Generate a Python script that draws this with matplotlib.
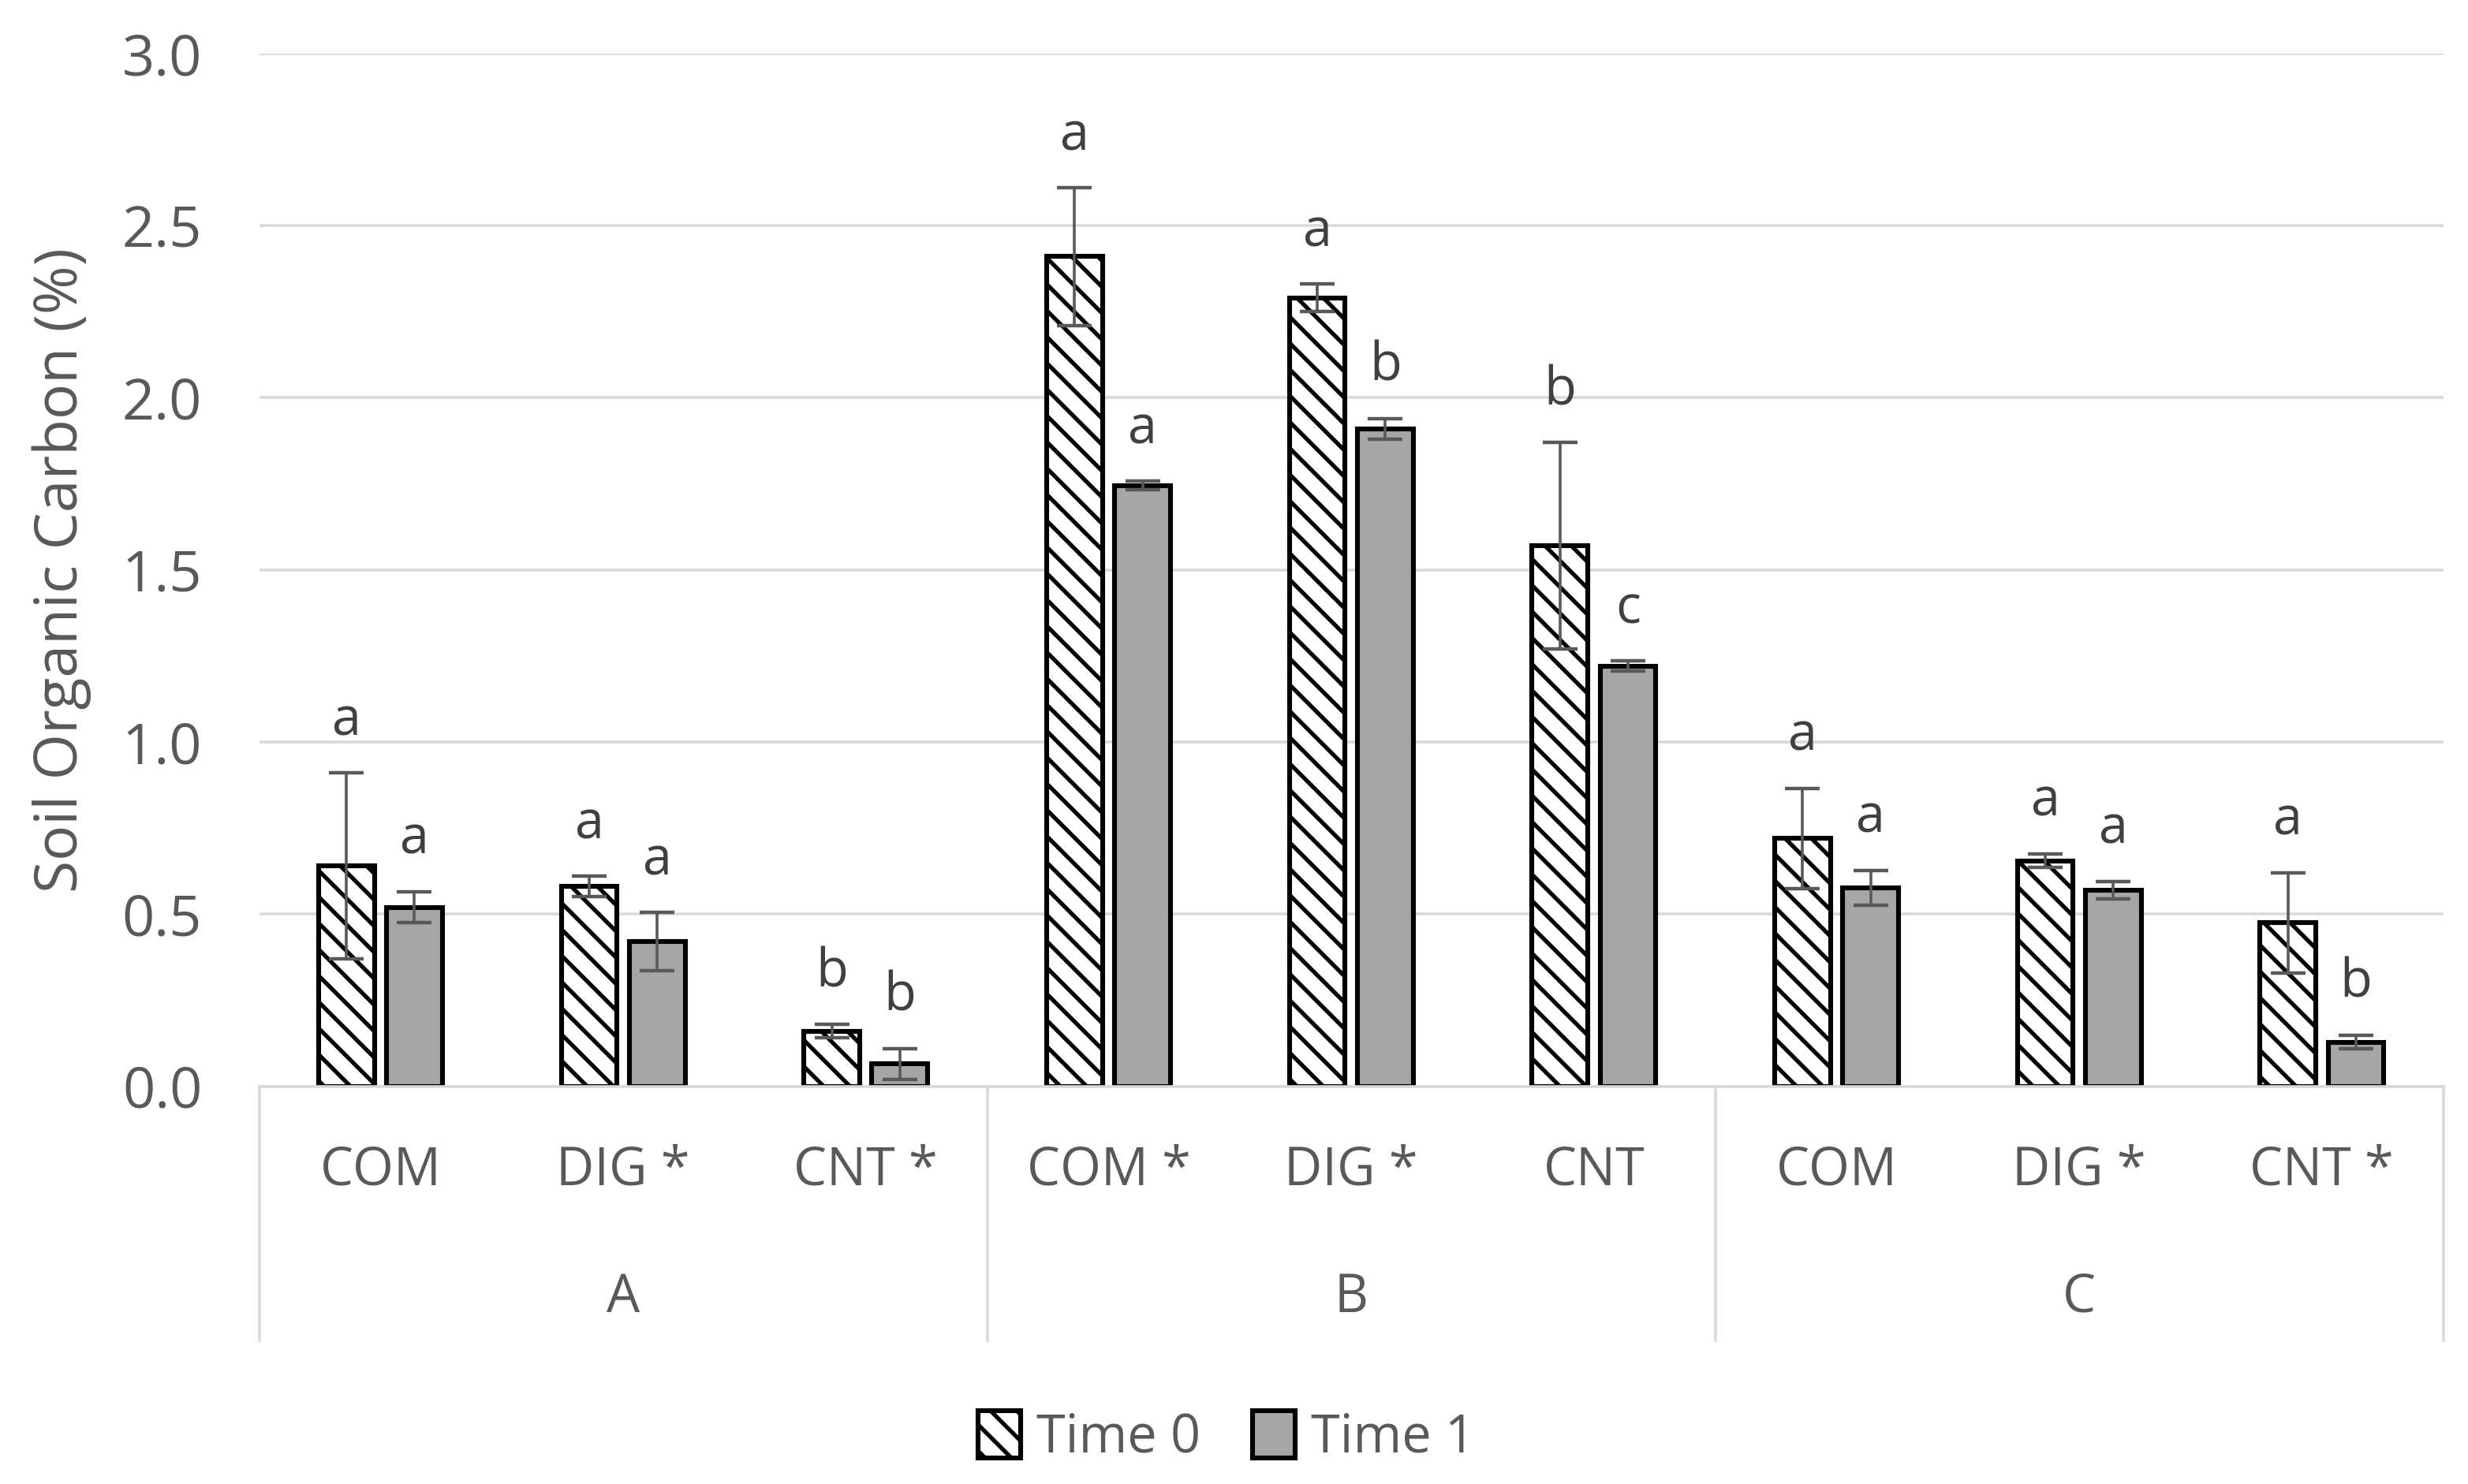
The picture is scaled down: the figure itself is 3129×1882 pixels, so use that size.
import numpy as np
import matplotlib
matplotlib.use("Agg")
import matplotlib.pyplot as plt
from matplotlib.patches import Patch

plt.rcParams['font.family'] = ['Open Sans', 'DejaVu Sans']
plt.rcParams['hatch.linewidth'] = 1.9

# data
groups = ['A', 'B', 'C']
treatments = ['COM', 'DIG *', 'CNT *', 'COM *', 'DIG *', 'CNT', 'COM', 'DIG *', 'CNT *']

time0 = [0.64, 0.58, 0.16, 2.41, 2.29, 1.57, 0.72, 0.655, 0.475]
time0_err = [0.27, 0.03, 0.02, 0.20, 0.04, 0.30, 0.145, 0.02, 0.145]
time1 = [0.52, 0.42, 0.065, 1.745, 1.91, 1.22, 0.577, 0.57, 0.128]
time1_err = [0.045, 0.085, 0.045, 0.012, 0.03, 0.015, 0.05, 0.025, 0.02]

letters0 = ['a', 'a', 'b', 'a', 'a', 'b', 'a', 'a', 'a']
letters1 = ['a', 'a', 'b', 'a', 'b', 'c', 'a', 'a', 'b']

txt = '#595959'
grid = '#D9D9D9'

fig = plt.figure(figsize=(15.645, 9.41), dpi=200)
ax = fig.add_axes([0.105, 0.268, 0.885, 0.696])

x = np.arange(len(treatments))
w = 0.23
off = 0.14

ax.bar(x - off, time0, w, color='white', edgecolor='black', hatch='\\\\',
       linewidth=2.2, zorder=2)
ax.bar(x + off, time1, w, color='#A6A6A6', edgecolor='black',
       linewidth=2.2, zorder=2)
ax.errorbar(x - off, time0, yerr=time0_err, fmt='none', ecolor=txt,
            elinewidth=1.3, capsize=8, capthick=1.6, zorder=3)
ax.errorbar(x + off, time1, yerr=time1_err, fmt='none', ecolor=txt,
            elinewidth=1.3, capsize=8, capthick=1.6, zorder=3)

for i in range(len(x)):
    ax.text(x[i] - off, time0[i] + time0_err[i] + 0.11, letters0[i],
            ha='center', va='baseline', fontsize=24, color='#404040')
    ax.text(x[i] + off, time1[i] + time1_err[i] + 0.11, letters1[i],
            ha='center', va='baseline', fontsize=24, color='#404040')

ax.set_ylim(0, 3.0)
ax.set_xlim(-0.5, len(x) - 0.5)
ax.set_yticks(np.arange(0, 3.01, 0.5))
ax.set_yticklabels(['%.1f' % v for v in np.arange(0, 3.01, 0.5)])
ax.tick_params(axis='y', length=0, labelsize=26, labelcolor=txt, pad=26)
ax.yaxis.grid(True, color=grid, linewidth=1.3, zorder=0)
ax.set_axisbelow(True)

ax.set_xticks([])
for s in ['top', 'right', 'left']:
    ax.spines[s].set_visible(False)
ax.spines['bottom'].set_color(grid)
ax.spines['bottom'].set_linewidth(1.3)

# category labels and group labels
for i, t in enumerate(treatments):
    ax.text(x[i], -0.082, t, transform=ax.get_xaxis_transform(),
            ha='center', va='center', fontsize=24, color=txt)
for g, name in enumerate(groups):
    ax.text(3 * g + 1, -0.205, name, transform=ax.get_xaxis_transform(),
            ha='center', va='center', fontsize=24, color=txt)
for b in [-0.5, 2.5, 5.5, 8.5]:
    ax.plot([b, b], [0, -0.246], transform=ax.get_xaxis_transform(),
            color=grid, linewidth=1.3, clip_on=False)

ax.set_ylabel('Soil Organic Carbon (%)', fontsize=27, color=txt, labelpad=14)

handles = [Patch(facecolor='white', edgecolor='black', hatch='\\\\', linewidth=2.2, label='Time 0'),
           Patch(facecolor='#A6A6A6', edgecolor='black', linewidth=2.2, label='Time 1')]
leg = fig.legend(handles=handles, loc='center', bbox_to_anchor=(0.497, 0.031), ncol=2,
                 frameon=False, fontsize=24, handlelength=0.8, handleheight=1.0,
                 handletextpad=0.3, columnspacing=1.0)
for t in leg.get_texts():
    t.set_color(txt)

fig.savefig('out.png', dpi=200)
